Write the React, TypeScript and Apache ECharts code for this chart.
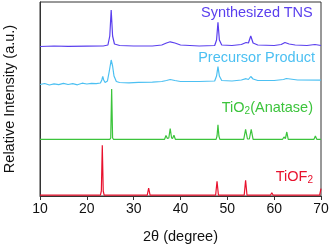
import React, { useEffect, useRef } from "react";
import * as echarts from "echarts";

const xTicks = [10, 20, 30, 40, 50, 60, 70];

const synthesizedTNS: [number, number][] = [
  [10, 149.5], [13, 150], [16, 149.6], [20, 149.8], [23.5, 150], [24.5, 151], [24.9, 160], [25.2, 186],
  [25.5, 160], [25.9, 152], [27, 150.5], [30, 150], [34, 150], [36, 151], [37, 153], [37.8, 154.2],
  [38.8, 153], [40, 151], [44, 150], [47.3, 150.5], [47.7, 156], [48.0, 173.7], [48.3, 156], [48.8, 151],
  [51, 150.5], [53, 151.5], [54, 153.5], [54.5, 153], [55, 160], [55.5, 153], [56.5, 151], [60, 150.5],
  [61.5, 151.5], [62.3, 153.5], [63.2, 152], [64.5, 151], [67, 150.5], [68.7, 151.5], [70, 150.5],
];

const precursorProduct: [number, number][] = [
  [10, 111.5], [11, 112.5], [12, 111], [13, 112.2], [14, 111.3], [15, 112.6], [16, 111.5], [17, 112.3],
  [18, 111.2], [19, 112.8], [20, 112], [21, 112.6], [22, 112.3], [22.9, 113], [23.2, 116], [23.4, 119.7],
  [23.6, 116], [23.9, 113.5], [24.4, 115], [24.8, 125], [25.2, 136], [25.5, 130], [25.8, 120], [26.3, 114.5],
  [27, 113.5], [29, 113.2], [31, 113.6], [34, 113.8], [36, 114.5], [37, 115.5], [37.8, 116.5], [38.8, 115.5],
  [40, 114.5], [44, 114.5], [47.3, 115], [47.7, 120], [48.0, 129.3], [48.3, 120], [48.8, 115.5], [51, 115],
  [53, 116], [54, 117.3], [54.5, 116.5], [55, 119.5], [55.5, 117], [56.5, 115.5], [60, 115.5], [62, 116.5],
  [62.6, 117.5], [63.4, 117], [65, 116], [70, 115.8],
];

const tio2Anatase: [number, number][] = [
  [10, 56.7], [24.9, 56.7], [25.1, 58], [25.3, 107], [25.5, 58], [25.7, 56.7], [36.6, 56.7], [36.9, 60.5],
  [37.2, 57.5], [37.5, 58], [37.8, 67.3], [38.1, 58], [38.3, 57.5], [38.6, 60.7], [38.9, 56.7], [47.6, 56.7],
  [47.8, 60], [48.0, 71.3], [48.2, 60], [48.4, 56.7], [53.5, 56.7], [53.9, 66.7], [54.3, 57], [54.7, 57],
  [55.1, 66.7], [55.5, 56.7], [61.8, 56.7], [62.1, 59], [62.4, 57.5], [62.7, 64], [63.0, 56.7], [68.5, 56.7],
  [68.8, 60], [69.1, 56.7], [70, 56.7],
];

const tiof2: [number, number][] = [
  [10, 0.8], [22.9, 0.8], [23.1, 5], [23.3, 50.7], [23.5, 5], [23.7, 0.8], [32.9, 0.8], [33.2, 8],
  [33.5, 0.8], [47.5, 0.8], [47.8, 14.7], [48.1, 0.8], [53.6, 0.8], [53.9, 15.7], [54.2, 0.8], [59.2, 0.8],
  [59.5, 3.3], [59.8, 0.8], [69.7, 0.8], [70, 7.3],
];

const FONT = "Liberation Sans, Arial, sans-serif";

export default function App() {
  const ref = useRef<HTMLDivElement>(null);
  useEffect(() => {
    if (!ref.current) return;
    const chart = echarts.init(ref.current, undefined, { renderer: "svg" });
    const line = (name: string, data: [number, number][], color: string) => ({
      name,
      type: "line",
      data,
      symbol: "none",
      lineStyle: { color, width: 1.2 },
      itemStyle: { color },
    });
    chart.setOption({
      animation: false,
      grid: {
        left: 40, right: 10, top: 2, bottom: 48, show: true, borderColor: "#333", borderWidth: 1,
        containLabel: false, outerBoundsMode: "none",
      },
      xAxis: {
        type: "value",
        min: 10,
        max: 70,
        interval: 10,
        axisLine: { lineStyle: { color: "#333", width: 1 } },
        axisTick: { show: true, length: 4, lineStyle: { color: "#333" } },
        axisLabel: { color: "#111", fontSize: 14, fontFamily: FONT, margin: 5,
          formatter: (v: number) => (xTicks.includes(v) ? String(v) : "") },
        splitLine: { show: false },
        name: "2θ (degree)",
        nameLocation: "middle",
        nameGap: 32,
        nameTextStyle: { color: "#111", fontSize: 14.5, fontFamily: FONT },
      },
      yAxis: {
        type: "value",
        min: 0,
        max: 194,
        axisLine: { show: true, lineStyle: { color: "#333", width: 1 } },
        axisTick: { show: false },
        axisLabel: { show: false },
        splitLine: { show: false },
        name: "Relative Intensity (a.u.)",
        nameLocation: "middle",
        nameGap: 24,
        nameTextStyle: { color: "#111", fontSize: 14.5, fontFamily: FONT },
      },
      series: [
        line("Synthesized TNS", synthesizedTNS, "#5a3fee"),
        line("Precursor Product", precursorProduct, "#4cc0f2"),
        line("TiO2(Anatase)", tio2Anatase, "#3cc43c"),
        line("TiOF2", tiof2, "#e8112d"),
      ],
      graphic: [
        { type: "text", right: 18, top: 4, style: { text: "Synthesized TNS", fill: "#5a3fee", font: `14.5px ${FONT}` } },
        { type: "text", right: 16, top: 49, style: { text: "Precursor Product", fill: "#4cc0f2", font: `14.5px ${FONT}` } },
        {
          type: "text", right: 18, top: 99,
          style: {
            text: "{m|TiO}{s|2}{m|(Anatase)}",
            rich: {
              m: { fill: "#3cc43c", fontSize: 14.5, fontFamily: FONT, lineHeight: 18, verticalAlign: "middle" },
              s: { fill: "#3cc43c", fontSize: 10, fontFamily: FONT, lineHeight: 9, verticalAlign: "bottom" },
            },
          },
        },
        {
          type: "text", right: 18, top: 168,
          style: {
            text: "{m|TiOF}{s|2}",
            rich: {
              m: { fill: "#e8112d", fontSize: 14.5, fontFamily: FONT, lineHeight: 18, verticalAlign: "middle" },
              s: { fill: "#e8112d", fontSize: 10, fontFamily: FONT, lineHeight: 9, verticalAlign: "bottom" },
            },
          },
        },
      ],
    });
    return () => chart.dispose();
  }, []);
  return <div ref={ref} style={{ position: "fixed", left: 0, top: 0, width: 331, height: 244 }} />;
}
